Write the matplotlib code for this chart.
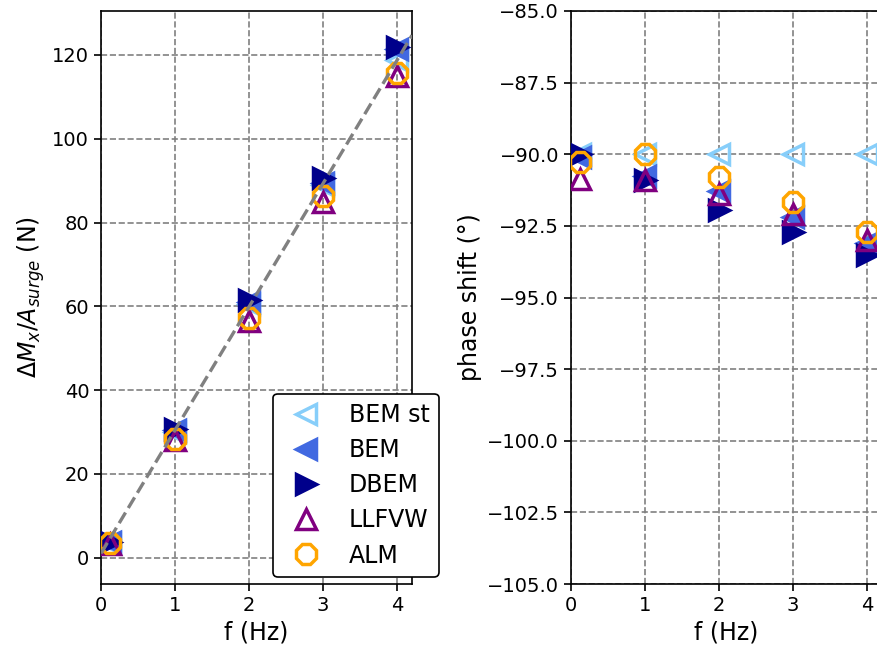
import matplotlib
matplotlib.use("Agg")
import matplotlib.pyplot as plt
import numpy as np

freq = [0.125, 1, 2, 3, 4]
series = ["BEM st", "BEM", "DBEM", "LLFVW", "ALM"]

# Left: dM_x / A_surge (N)
amp_bemst = [3.6, 30.0, 60.5, 89.0, 118.8]
amp_bem = [3.7, 30.5, 61.0, 89.5, 121.5]
amp_dbem = [3.7, 30.8, 61.4, 90.6, 121.9]
amp_llfvw = [3.2, 28.0, 56.5, 85.0, 115.0]
amp_alm = [3.5, 28.4, 57.1, 86.3, 115.6]

fit_x = [0.0, 4.2]
fit_y = [1.0, 124.7]

# Right: phase shift (deg)
ph_bemst = [-90.0, -90.0, -90.0, -90.0, -90.0]
ph_bem = [-90.1, -90.75, -91.3, -92.2, -93.1]
ph_dbem = [-90.0, -90.9, -91.95, -92.7, -93.5]
ph_llfvw = [-90.85, -90.9, -91.4, -92.07, -93.0]
ph_alm = [-90.27, -90.0, -90.8, -91.66, -92.7]

styles = {
    "BEM st": dict(marker="<", color="lightskyblue", mfc="none"),
    "BEM": dict(marker="<", color="royalblue", mfc="royalblue"),
    "DBEM": dict(marker=">", color="darkblue", mfc="darkblue"),
    "LLFVW": dict(marker="^", color="purple", mfc="none"),
    "ALM": dict(marker="8", color="orange", mfc="none"),
}

fig = plt.figure(figsize=(8.77, 6.52), dpi=100)
ax1 = fig.add_axes([101/877, 68/652, 311/877, 573/652])
ax2 = fig.add_axes([571/877, 68/652, 311/877, 573/652])

amps = [amp_bemst, amp_bem, amp_dbem, amp_llfvw, amp_alm]
phs = [ph_bemst, ph_bem, ph_dbem, ph_llfvw, ph_alm]

handles = []
for name, a, p in zip(series, amps, phs):
    st = styles[name]
    h, = ax1.plot(freq, a, linestyle="none", marker=st["marker"], color=st["color"],
                  mfc=st["mfc"], mec=st["color"], ms=15, mew=2.5, label=name, zorder=3)
    ax2.plot(freq, p, linestyle="none", marker=st["marker"], color=st["color"],
             mfc=st["mfc"], mec=st["color"], ms=15, mew=2.5, zorder=3)
    handles.append(h)

ax1.plot(fit_x, fit_y, "--", color="gray", lw=2.4, zorder=4)

ax1.set_xlim(0, 4.2)
ax1.set_ylim(-6.3, 130.5)
ax1.set_yticks([0, 20, 40, 60, 80, 100, 120])
ax2.set_xlim(0, 4.2)
ax2.set_ylim(-105, -85)
ax2.set_yticks(np.arange(-105, -84.9, 2.5))

for ax in (ax1, ax2):
    ax.set_xticks([0, 1, 2, 3, 4])
    ax.grid(True, linestyle="--", color="gray", lw=1.2)
    ax.set_axisbelow(True)
    ax.tick_params(labelsize=14, width=1.2, length=5)
    ax.set_xlabel("f (Hz)", fontsize=17)
    for s in ax.spines.values():
        s.set_linewidth(1.2)

ax1.set_ylabel(r"$\Delta M_x/A_{surge}$ (N)", fontsize=17)
ax2.set_ylabel("phase shift (°)", fontsize=17)

leg = fig.legend(handles=handles, loc="lower right", bbox_to_anchor=(439/877, 75/652),
                 fontsize=17, framealpha=1, edgecolor="black", borderaxespad=0,
                 borderpad=0.4, labelspacing=0.47)
leg.get_frame().set_linewidth(1.2)

fig.savefig("out.png", dpi=100)
